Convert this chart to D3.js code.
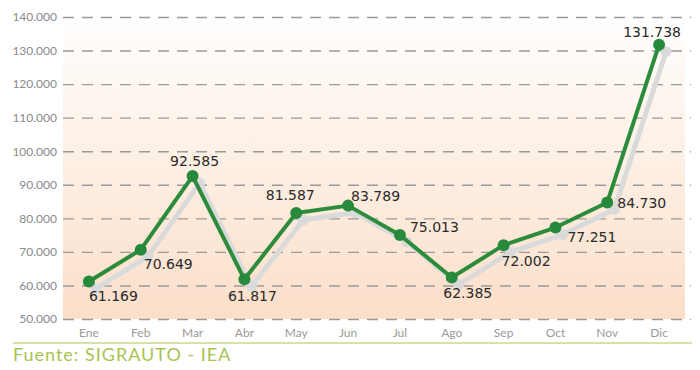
<!doctype html>
<html lang="es">
<head>
<meta charset="utf-8">
<script src="https://cdn.jsdelivr.net/npm/d3@7"></script>
<style>
  body { margin: 0; background: #fff; }
  svg { display: block; }
  .ytick text { font-family: 'Lato', sans-serif; font-size: 12px; fill: #8a8a8a; }
  .xtick text { font-family: 'Lato', sans-serif; font-size: 12px; fill: #9a9a9a; }
  .value { font-family: 'DejaVu Sans', sans-serif; font-size: 14px; fill: #2a2a2a; }
  .source { font-family: 'Lato', sans-serif; font-size: 18px; fill: #a9c34f; letter-spacing: 1px; }
</style>
</head>
<body>
<svg width="700" height="370"></svg>
<script>
// months, sales (units) and y ticks
const months = ['Ene', 'Feb', 'Mar', 'Abr', 'May', 'Jun', 'Jul', 'Ago', 'Sep', 'Oct', 'Nov', 'Dic'];
const sales = [61169, 70649, 92585, 61817, 81587, 83789, 75013, 62385, 72002, 77251, 84730, 131738];
const yTicks = [50000, 60000, 70000, 80000, 90000, 100000, 110000, 120000, 130000, 140000];

// where each value label sits relative to its point (layout only)
const labelOffsets = [
  [0, 19, 'start'], [3, 19, 'start'], [2, -10, 'middle'], [8, 22, 'middle'],
  [-6, -13, 'middle'], [3, -5, 'start'], [10, -3, 'start'], [16, 21, 'middle'],
  [-2, 21, 'start'], [12, 14, 'start'], [10, 6, 'start'], [-7, -8, 'middle']
];

const svg = d3.select('svg');
const plotLeft = 63, plotRight = 685, plotTop = 17, plotBottom = 319;

const x = d3.scaleBand().domain(months).range([plotLeft, plotRight]);
const y = d3.scaleLinear().domain([50000, 140000]).range([plotBottom, plotTop]);
const cx = m => x(m) + x.bandwidth() / 2;

const fmt = v => d3.format(',')(v).replace(/,/g, '.');

// background gradient
const defs = svg.append('defs');
const grad = defs.append('linearGradient')
  .attr('id', 'bg').attr('x1', 0).attr('y1', 0).attr('x2', 0).attr('y2', 1);
grad.append('stop').attr('offset', '0%').attr('stop-color', '#fffefd');
grad.append('stop').attr('offset', '100%').attr('stop-color', '#fbdfc9');

svg.append('rect')
  .attr('x', plotLeft).attr('y', plotTop)
  .attr('width', plotRight - plotLeft).attr('height', plotBottom - plotTop)
  .attr('fill', 'url(#bg)');

// y axis with dashed grid
const yAxis = svg.append('g')
  .attr('class', 'ytick')
  .attr('transform', `translate(${plotLeft},0)`)
  .call(d3.axisLeft(y).tickValues(yTicks).tickSize(-(plotRight - plotLeft + 6)).tickPadding(6).tickFormat(fmt));
yAxis.select('.domain').remove();
yAxis.selectAll('line')
  .attr('stroke', '#9a9a9a')
  .attr('stroke-width', 1.4)
  .attr('stroke-dasharray', '11 8');

// x axis labels
const xAxis = svg.append('g')
  .attr('class', 'xtick')
  .attr('transform', `translate(0,${plotBottom})`)
  .call(d3.axisBottom(x).tickSize(0).tickPadding(9));
xAxis.select('.domain').remove();

const line = d3.line()
  .x((d, i) => cx(months[i]))
  .y(d => y(d));

// grey shadow
const shadow = svg.append('g').attr('transform', 'translate(7,7)');
shadow.append('path')
  .datum(sales)
  .attr('d', line)
  .attr('fill', 'none')
  .attr('stroke', '#dadada')
  .attr('stroke-width', 5)
  .attr('stroke-linejoin', 'round');
shadow.selectAll('circle')
  .data(sales)
  .join('circle')
  .attr('cx', (d, i) => cx(months[i]))
  .attr('cy', d => y(d))
  .attr('r', 5.5)
  .attr('fill', '#dadada');

// green series
svg.append('path')
  .datum(sales)
  .attr('d', line)
  .attr('fill', 'none')
  .attr('stroke', '#2c8c3b')
  .attr('stroke-width', 4)
  .attr('stroke-linejoin', 'round');
svg.selectAll('circle.pt')
  .data(sales)
  .join('circle')
  .attr('class', 'pt')
  .attr('cx', (d, i) => cx(months[i]))
  .attr('cy', d => y(d))
  .attr('r', 6)
  .attr('fill', '#27893b');

// value labels
svg.selectAll('text.value')
  .data(sales)
  .join('text')
  .attr('class', 'value')
  .attr('x', (d, i) => cx(months[i]) + labelOffsets[i][0])
  .attr('y', (d, i) => y(d) + labelOffsets[i][1])
  .attr('text-anchor', (d, i) => labelOffsets[i][2])
  .text(d => fmt(d));

// source line
svg.append('line')
  .attr('x1', 13).attr('x2', 692)
  .attr('y1', 343).attr('y2', 343)
  .attr('stroke', '#c9d98a').attr('stroke-width', 1.5);
svg.append('text')
  .attr('class', 'source')
  .attr('x', 13).attr('y', 361)
  .text('Fuente: SIGRAUTO - IEA');
</script>
</body>
</html>
